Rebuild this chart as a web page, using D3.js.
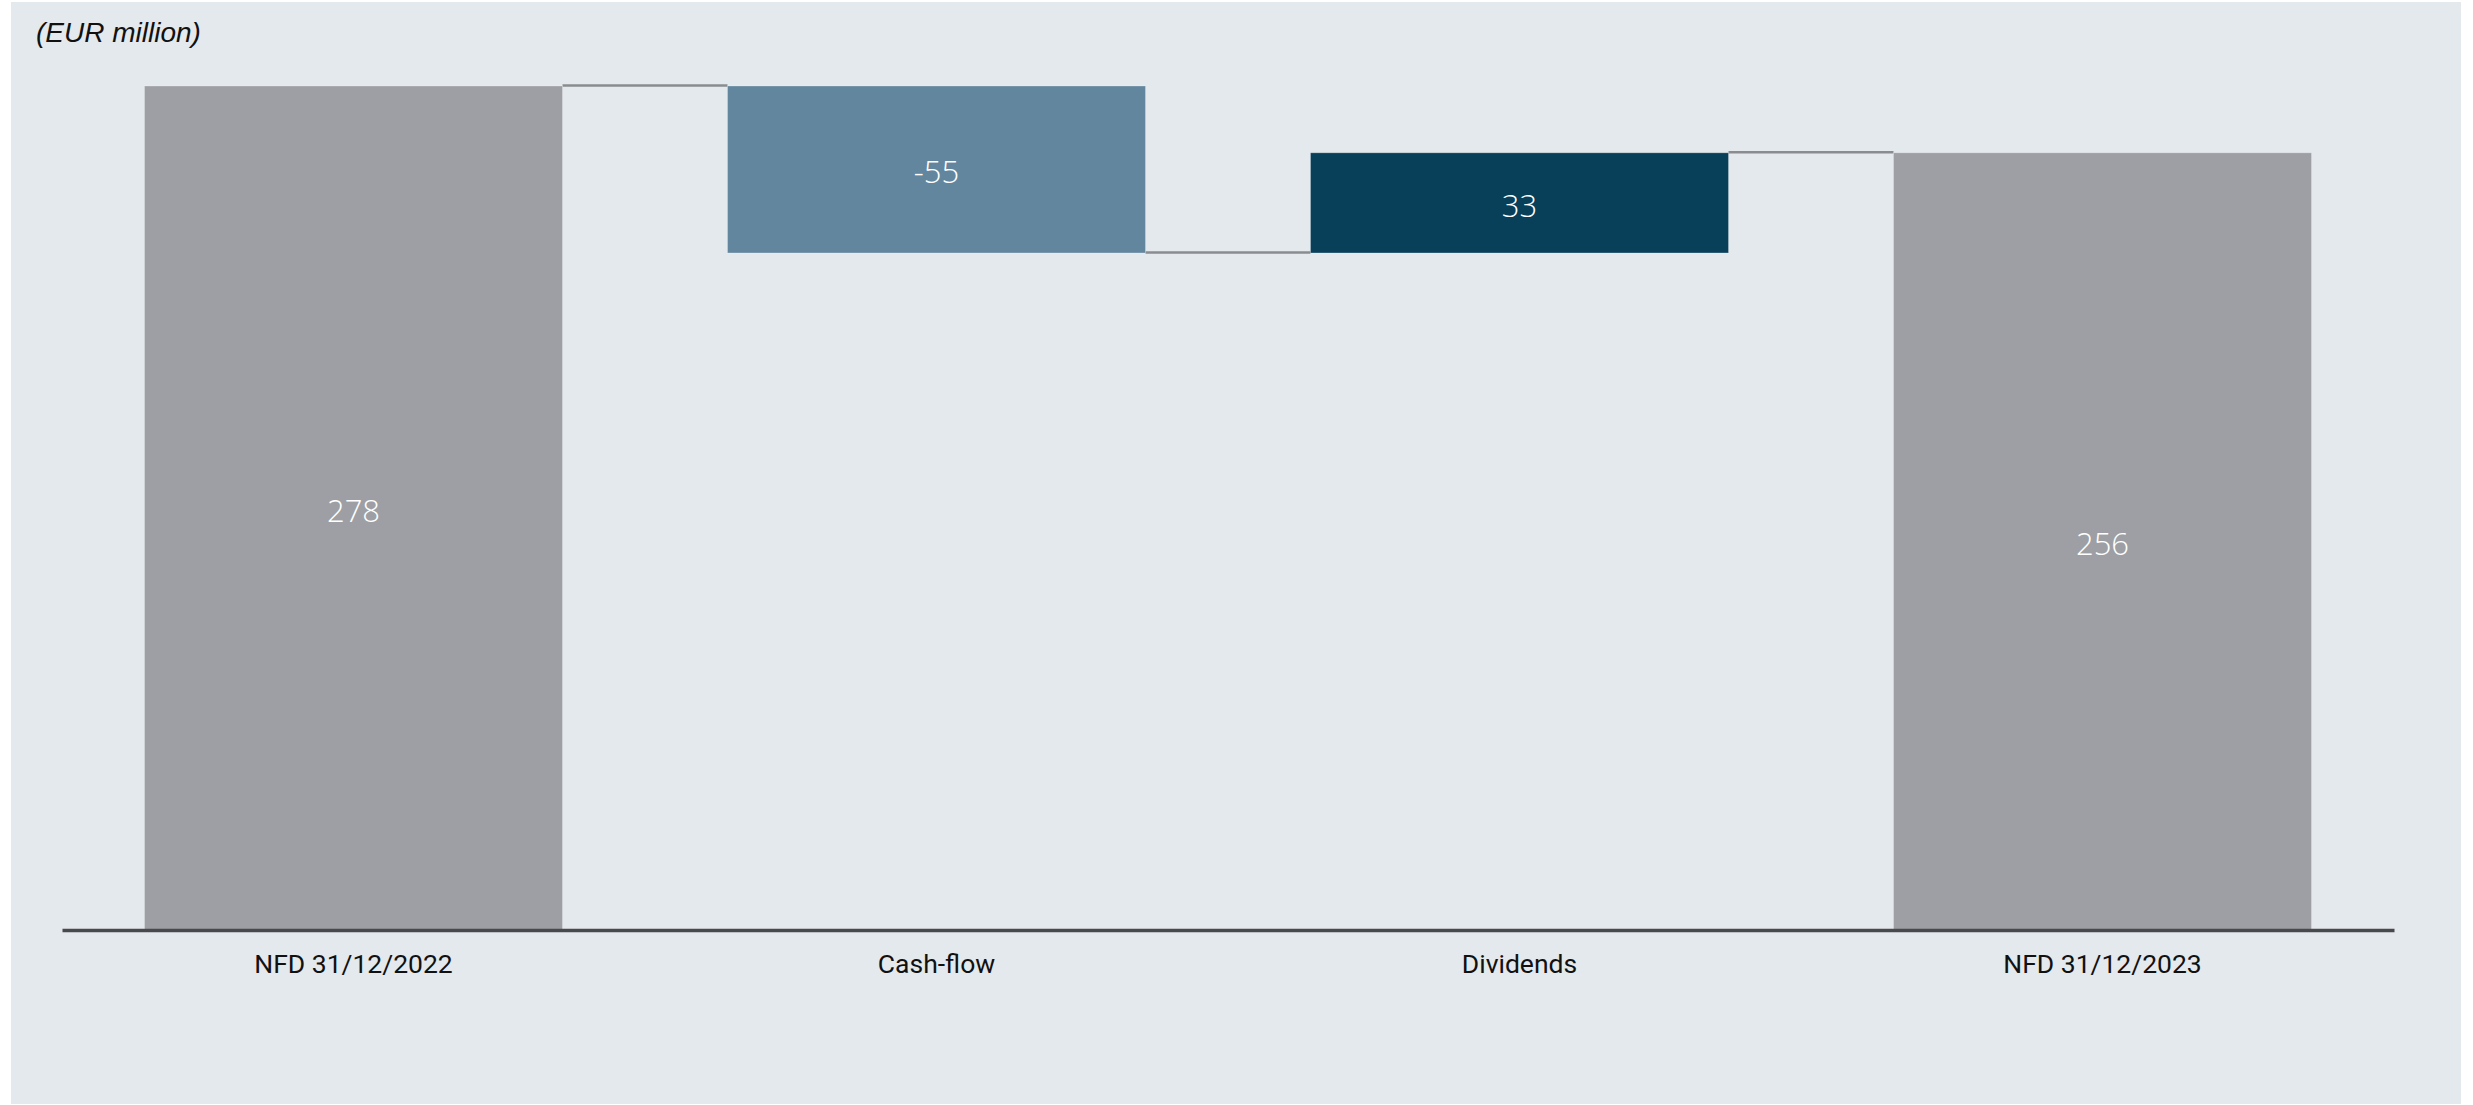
<!DOCTYPE html>
<html>
<head>
<meta charset="utf-8">
<script src="https://cdn.jsdelivr.net/npm/d3@7"></script>
<style>
  body { margin: 0; background: #fff; }
  svg { display: block; }
</style>
</head>
<body>
<svg id="chart" width="2473" height="1105"></svg>
<script>
// waterfall data, EUR million
const categories = ["NFD 31/12/2022", "Cash-flow", "Dividends", "NFD 31/12/2023"];
const values = [278, -55, 33, 256];
const kinds = ["total", "delta", "delta", "total"];
const colors = ["#9d9fa4", "#63869f", "#08405a", "#9d9fa4"];

const svg = d3.select("#chart");

svg.append("rect")
    .attr("x", 11).attr("y", 2)
    .attr("width", 2450).attr("height", 1102)
    .attr("fill", "#e4e9ed");

// running totals -> start / end of each bar
let running = 0;
const bars = categories.map((c, i) => {
    let start, end;
    if (kinds[i] === "total") { start = 0; end = values[i]; }
    else { start = running; end = running + values[i]; }
    running = end;
    return {cat: c, value: values[i], start, end, color: colors[i]};
});

const x = d3.scaleBand()
    .domain(categories)
    .range([62, 2394])
    .paddingInner(0.283)
    .paddingOuter(0.1415);

const y = d3.scaleLinear()
    .domain([0, d3.max(bars, d => Math.max(d.start, d.end))])
    .range([930, 86]);

// connectors
svg.append("g")
    .selectAll("line")
    .data(bars.slice(0, -1))
    .join("line")
    .attr("x1", d => x(d.cat) + x.bandwidth())
    .attr("x2", (d, i) => x(bars[i + 1].cat))
    .attr("y1", d => y(d.end) - 0.5)
    .attr("y2", d => y(d.end) - 0.5)
    .attr("stroke", "#8a8c8f")
    .attr("stroke-width", 2.5);

svg.append("g")
    .selectAll("rect")
    .data(bars)
    .join("rect")
    .attr("x", d => x(d.cat))
    .attr("y", d => y(Math.max(d.start, d.end)))
    .attr("width", x.bandwidth())
    .attr("height", d => Math.abs(y(d.start) - y(d.end)))
    .attr("fill", d => d.color)
    .attr("stroke", "rgba(255,255,255,0.25)")
    .attr("stroke-width", 1);

svg.append("g")
    .selectAll("text")
    .data(bars)
    .join("text")
    .attr("x", d => x(d.cat) + x.bandwidth() / 2)
    .attr("y", d => (y(d.start) + y(d.end)) / 2)
    .attr("dy", "0.45em")
    .attr("text-anchor", "middle")
    .attr("fill", "#fff")
    .attr("font-family", "'Open Sans', sans-serif")
    .attr("font-weight", 300)
    .attr("font-size", 31)
    .text(d => d.value);

const axis = svg.append("g")
    .attr("transform", "translate(0,930)")
    .call(d3.axisBottom(x).tickSize(0).tickPadding(24));

axis.select(".domain")
    .attr("stroke", "#48494b")
    .attr("stroke-width", 3.5);

axis.selectAll("text")
    .attr("fill", "#111")
    .attr("font-family", "Roboto, sans-serif")
    .attr("font-size", 26.5);

svg.append("text")
    .attr("x", 36).attr("y", 42)
    .attr("font-family", "'Liberation Sans', Arial, sans-serif")
    .attr("font-style", "italic")
    .attr("font-size", 28)
    .attr("fill", "#111")
    .text("(EUR million)");
</script>
</body>
</html>
